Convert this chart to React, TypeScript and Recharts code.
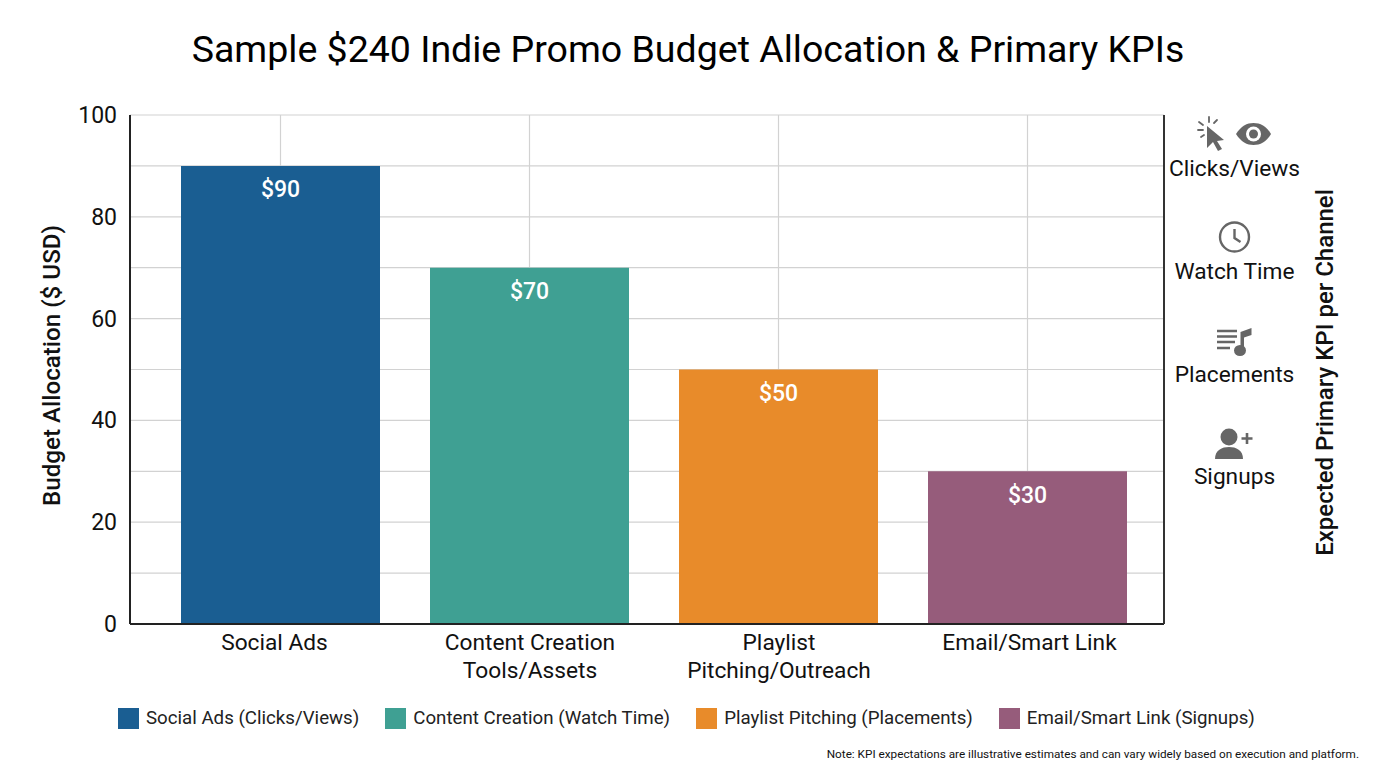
import React from "react";
import { BarChart, Bar, XAxis, YAxis, CartesianGrid, LabelList, Legend } from "recharts";

const categories = ["Social Ads", "Content Creation Tools/Assets", "Playlist Pitching/Outreach", "Email/Smart Link"];
const tickLines = [["Social Ads"], ["Content Creation", "Tools/Assets"], ["Playlist", "Pitching/Outreach"], ["Email/Smart Link"]];
const budget = [90, 70, 50, 30];
const seriesNames = ["Social Ads (Clicks/Views)", "Content Creation (Watch Time)", "Playlist Pitching (Placements)", "Email/Smart Link (Signups)"];
const seriesColors = ["#1a5e92", "#3fa093", "#e88b2a", "#965c7b"];
const yTicks = [0, 10, 20, 30, 40, 50, 60, 70, 80, 90, 100];
const kpiLabels = ["Clicks/Views", "Watch Time", "Placements", "Signups"];

const data = categories.map((name, i) => {
  const row: Record<string, string | number | undefined> = { name };
  seriesNames.forEach((s, j) => { row[s] = i === j ? budget[i] : undefined; });
  return row;
});

const FONT = "Roboto, sans-serif";
const tickNudge = [-6, 0.5, 0.5, 2];
const kpiBaselines = [175.5, 279, 381.5, 484];
const GRAY = "#666";

const XTick = (props: any) => {
  const { x, y, index } = props;
  return (
    <text x={x + tickNudge[index]} y={y} textAnchor="middle" fontFamily={FONT} fontSize={22.7} fill="#111">
      {tickLines[index].map((l, i) => (
        <tspan key={l} x={x + tickNudge[index]} dy={i === 0 ? 18 : 27.5}>{l}</tspan>
      ))}
    </text>
  );
};

const YTick = (props: any) => {
  const { x, y, payload } = props;
  if (payload.value % 20 !== 0) return <g />;
  return (
    <text x={x - 5} y={y} dy={8} textAnchor="end" fontFamily={FONT} fontSize={23} fill="#111">{payload.value}</text>
  );
};

const KpiPanel = () => (
  <g>
    <g stroke={GRAY} strokeWidth={1.8} fill="none" strokeLinecap="round">
      <path d="M1209 117v5M1199 122l4 3M1217 120l-3 3M1198 130h5M1201 137l3-2" />
    </g>
    <path d="M1207 126l17 14-7 1 5 8-4 2-5-9-6 6z" fill={GRAY} />
    <path d="M1236 134c5-8 11-11 17.500-11s13 3 17.500 11c-4.500 8-11 11-17.500 11s-12.500-3-17.500-11z" fill={GRAY} />
    <circle cx={1253.5} cy={134} r={7.5} fill="#fff" />
    <circle cx={1253.5} cy={134} r={4.5} fill={GRAY} />
    <circle cx={1234.5} cy={237} r={14.5} fill="none" stroke={GRAY} strokeWidth={2.4} />
    <path d="M1234.500 229v9l6 4" fill="none" stroke={GRAY} strokeWidth={2.4} />
    <path d="M1217 331h20M1217 336.500h20M1217 342h18M1217 348h13" stroke={GRAY} strokeWidth={2.6} fill="none" />
    <path d="M1240.500 353V332l11-4v7l-7.500 2.500V353z" fill={GRAY} />
    <ellipse cx={1240} cy={350.5} rx={6} ry={5.5} fill={GRAY} />
    <circle cx={1229} cy={437} r={8.5} fill={GRAY} />
    <path d="M1215 459c0-9 7-12 14-12s14 3 14 12z" fill={GRAY} />
    <path d="M1247 433v11M1241.500 438.500h11" stroke={GRAY} strokeWidth={2.6} />
    {kpiLabels.map((l, i) => (
      <text key={l} x={1234.5} y={kpiBaselines[i]} textAnchor="middle" fontFamily={FONT} fontSize={22.7} fill="#111">{l}</text>
    ))}
  </g>
);

const LegendRow = (props: any) => (
  <div style={{ display: "flex", justifyContent: "flex-start", paddingLeft: 118, fontFamily: FONT, fontSize: 18.7, color: "#222" }}>
    {(props.payload || []).map((e: any) => (
      <div key={e.value} style={{ display: "flex", alignItems: "center", marginRight: 26 }}>
        <span style={{ width: 21, height: 21, background: e.color, marginRight: 7, display: "inline-block" }} />
        <span>{e.value}</span>
      </div>
    ))}
  </div>
);

export default function App() {
  return (
    <div style={{ position: "absolute", left: 0, top: 0, width: 1376, height: 768, background: "#fff", overflow: "hidden" }}>
      <div style={{ position: "absolute", top: 24, left: 0, width: 1376, textAlign: "center", fontFamily: FONT, fontSize: 37.5, color: "#000", lineHeight: "50px" }}>
        Sample $240 Indie Promo Budget Allocation &amp; Primary KPIs
      </div>
      <BarChart width={1376} height={768} data={data} margin={{ top: 115, left: 30, right: 42, bottom: 121 }} barSize={199}>
        <CartesianGrid yAxisId="left" stroke="#d2d2d2" strokeWidth={1.2} />
        <XAxis dataKey="name" interval={0} height={1} padding={{ left: 26, right: 12 }} tick={<XTick />} tickLine={false} axisLine={{ stroke: "#222", strokeWidth: 2 }} />
        <YAxis yAxisId="left" domain={[0, 100]} ticks={yTicks} interval={0} width={100} tick={<YTick />} tickLine={false} axisLine={{ stroke: "#222", strokeWidth: 2 }}
          label={{ value: "Budget Allocation ($ USD)", angle: -90, position: "insideLeft", dx: 16, dy: -4, fontFamily: FONT, fontSize: 24.2, fontWeight: 500, fill: "#111", style: { textAnchor: "middle" } }} />
        <YAxis yAxisId="right" orientation="right" domain={[0, 100]} ticks={[]} width={170} tick={false} tickLine={false} axisLine={{ stroke: "#333", strokeWidth: 2 }}
          label={{ value: "Expected Primary KPI per Channel", angle: -90, position: "insideRight", dx: -5, dy: 3, fontFamily: FONT, fontSize: 24, fontWeight: 500, fill: "#111", style: { textAnchor: "middle" } }} />
        {seriesNames.map((s, i) => (
          <Bar key={s} yAxisId="left" dataKey={s} stackId="a" fill={seriesColors[i]} isAnimationActive={false}>
            <LabelList dataKey={s} position="insideTop" offset={15} fill="#fff" fontFamily={FONT} fontSize={23} fontWeight={500} formatter={(v: any) => (v == null ? "" : `$${v}`)} />
          </Bar>
        ))}
        <Legend content={<LegendRow />} itemSorter={null} verticalAlign="bottom" wrapperStyle={{ top: 707, left: 0, width: 1376 }} />
        <KpiPanel />
      </BarChart>
      <div style={{ position: "absolute", right: 17, top: 747, fontFamily: FONT, fontSize: 11.75, color: "#111" }}>
        Note: KPI expectations are illustrative estimates and can vary widely based on execution and platform.
      </div>
    </div>
  );
}
